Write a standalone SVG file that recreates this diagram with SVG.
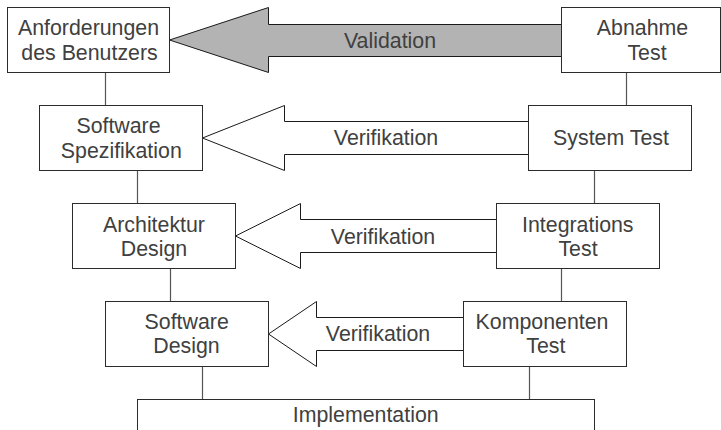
<svg xmlns="http://www.w3.org/2000/svg" width="721" height="430" viewBox="0 0 721 430">
<style>
.box{fill:#fff;stroke:#2b2b2b;stroke-width:1}
.arr{stroke:#1a1a1a;stroke-width:1;stroke-linejoin:miter}
.con{stroke:#555;stroke-width:1.2;fill:none}
text{font-family:"Liberation Sans",Arial,sans-serif;font-size:21.33px;fill:#404040;text-anchor:middle}
</style>
<rect width="721" height="430" fill="#fff"/>
<g id="connectors">
<line class="con" x1="105.5" y1="72.5" x2="105.5" y2="105.5"/>
<line class="con" x1="137.5" y1="170.5" x2="137.5" y2="203.5"/>
<line class="con" x1="170.5" y1="268.5" x2="170.5" y2="301.5"/>
<line class="con" x1="202.5" y1="366.5" x2="202.5" y2="399.5"/>
<line class="con" x1="626.5" y1="72.5" x2="626.5" y2="105.5"/>
<line class="con" x1="594.5" y1="170.5" x2="594.5" y2="203.5"/>
<line class="con" x1="561.5" y1="268.5" x2="561.5" y2="301.5"/>
<line class="con" x1="529.5" y1="366.5" x2="529.5" y2="399.5"/>
<g id="validation">
<polygon class="arr" fill="#b3b3b3" points="561.5,24.5 268.5,24.5 268.5,7.5 169.5,40 268.5,72.5 268.5,56.5 561.5,56.5"/>
<text x="390" y="48">Validation</text>
</g>
<g id="verifikation1">
<polygon class="arr" fill="#fff" points="528.5,121.5 284.5,121.5 284.5,105.5 202.5,138 284.5,170.5 284.5,154.5 528.5,154.5"/>
<text x="386" y="145">Verifikation</text>
</g>
<g id="verifikation2">
<polygon class="arr" fill="#fff" points="496.5,219.5 300.5,219.5 300.5,203.5 235.5,236 300.5,268.5 300.5,252.5 496.5,252.5"/>
<text x="383" y="243.5">Verifikation</text>
</g>
<g id="verifikation3">
<polygon class="arr" fill="#fff" points="463.5,317.5 316.5,317.5 316.5,301.5 268.5,334 316.5,366.5 316.5,350.5 463.5,350.5"/>
<text x="378" y="341">Verifikation</text>
</g>
</g>
<g id="anforderungen">
<rect class="box" x="7.5" y="7.5" width="162" height="65"/>
<text x="88.5" y="35.3">Anforderungen</text>
<text x="89.5" y="60.3">des Benutzers</text>
</g>
<g id="spezifikation">
<rect class="box" x="39.5" y="105.5" width="163" height="65"/>
<text x="118.5" y="133.3">Software</text>
<text x="121.3" y="157.5">Spezifikation</text>
</g>
<g id="architektur">
<rect class="box" x="72.5" y="203.5" width="163" height="65"/>
<text x="154" y="231.7">Architektur</text>
<text x="154" y="255.5">Design</text>
</g>
<g id="swdesign">
<rect class="box" x="105.5" y="301.5" width="163" height="65"/>
<text x="186.7" y="328.8">Software</text>
<text x="186.5" y="353">Design</text>
</g>
<g id="implementation">
<rect class="box" x="137.5" y="399.5" width="457" height="40"/>
<text x="365.7" y="422">Implementation</text>
</g>
<g id="abnahme">
<rect class="box" x="561.5" y="7.5" width="159" height="65"/>
<text x="642.5" y="35.3">Abnahme</text>
<text x="647" y="60.3">Test</text>
</g>
<g id="systemtest">
<rect class="box" x="528.5" y="105.5" width="163" height="65"/>
<text x="611" y="145">System Test</text>
</g>
<g id="integration">
<rect class="box" x="496.5" y="203.5" width="163" height="65"/>
<text x="577.8" y="231.7">Integrations</text>
<text x="578" y="255.5">Test</text>
</g>
<g id="komponenten">
<rect class="box" x="463.5" y="301.5" width="163" height="65"/>
<text x="542" y="328.8">Komponenten</text>
<text x="545.8" y="353">Test</text>
</g>
</svg>
